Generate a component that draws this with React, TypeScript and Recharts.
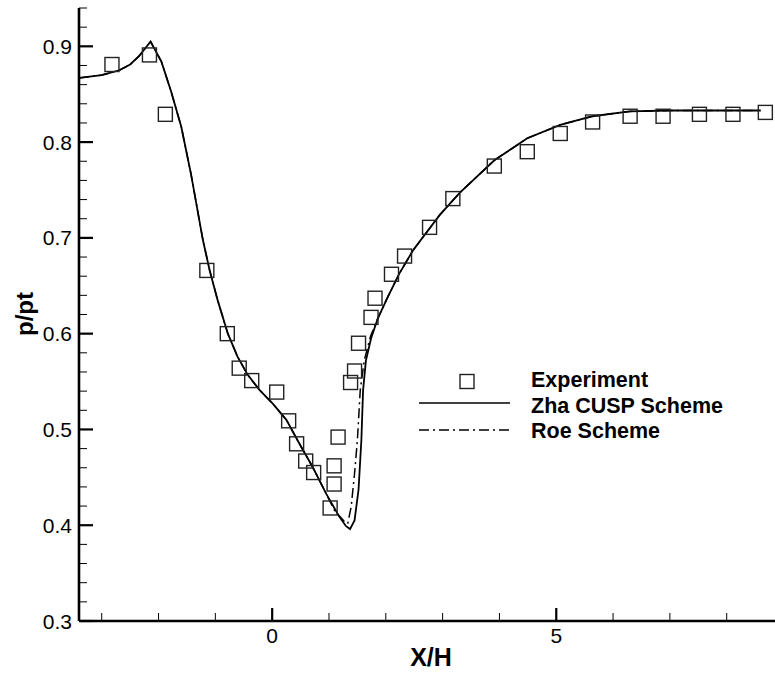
import {
  ComposedChart,
  Line,
  Scatter,
  XAxis,
  YAxis,
  Legend,
} from 'recharts'

const FONT = '"Liberation Sans", Arial, Helvetica, sans-serif'

// Zha CUSP scheme
const cuspX = [
  -3.4, -3.0, -2.69, -2.5, -2.34, -2.14, -1.95, -1.78, -1.6, -1.43, -1.22, -1.1,
  -0.96, -0.78, -0.61, -0.43, -0.22, 0.01, 0.25, 0.48, 0.71, 0.95, 1.18, 1.3,
  1.37, 1.45, 1.52, 1.57, 1.6, 1.65, 1.74, 1.86, 2.04, 2.24, 2.48, 2.95, 3.3,
  3.91, 4.49, 5.07, 5.64, 6.29, 7.0, 8.0, 8.6,
]
const cuspY = [
  0.867, 0.87, 0.875, 0.881, 0.89, 0.905, 0.884, 0.853, 0.816, 0.767, 0.698, 0.666,
  0.635, 0.6, 0.576, 0.557, 0.541, 0.527, 0.51, 0.485, 0.461, 0.433, 0.409, 0.399,
  0.396, 0.405, 0.437, 0.489, 0.541, 0.572, 0.595, 0.616, 0.639, 0.663, 0.687, 0.724, 0.747,
  0.781, 0.804, 0.818, 0.827, 0.832, 0.833, 0.833, 0.833,
]

// Roe scheme
const roeX = [
  -3.4, -3.0, -2.69, -2.5, -2.34, -2.14, -1.95, -1.78, -1.6, -1.43, -1.22, -1.1,
  -0.96, -0.78, -0.61, -0.43, -0.22, 0.01, 0.25, 0.48, 0.71, 0.95, 1.1, 1.24,
  1.3, 1.33, 1.39, 1.45, 1.5, 1.55, 1.62, 1.73, 1.86, 2.04, 2.24, 2.48, 2.95, 3.3,
  3.91, 4.49, 5.07, 5.64, 6.29, 7.0, 8.0, 8.6,
]
const roeY = [
  0.867, 0.87, 0.875, 0.881, 0.89, 0.905, 0.884, 0.853, 0.816, 0.767, 0.698, 0.666,
  0.635, 0.6, 0.576, 0.557, 0.541, 0.527, 0.51, 0.485, 0.461, 0.433, 0.415, 0.406,
  0.402, 0.402, 0.419, 0.454, 0.489, 0.541, 0.572, 0.597, 0.616, 0.639, 0.663, 0.687, 0.724, 0.747,
  0.781, 0.804, 0.818, 0.827, 0.832, 0.833, 0.833, 0.833,
]

// experiment
const expX = [
  -2.82, -2.16, -1.88, -1.15, -0.79, -0.58, -0.36, 0.08, 0.29, 0.43, 0.59, 0.73,
  1.02, 1.09, 1.09, 1.16, 1.38, 1.45, 1.52, 1.74, 1.81, 2.1, 2.33, 2.77, 3.18,
  3.91, 4.49, 5.07, 5.64, 6.3, 6.88, 7.52, 8.11, 8.68,
]
const expY = [
  0.881, 0.891, 0.829, 0.666, 0.6, 0.564, 0.551, 0.539, 0.509, 0.485, 0.467, 0.455,
  0.418, 0.443, 0.462, 0.492, 0.549, 0.561, 0.59, 0.617, 0.637, 0.662, 0.681, 0.711, 0.741,
  0.775, 0.79, 0.809, 0.821, 0.827, 0.827, 0.829, 0.829, 0.831,
]

const xTicks = [-3, -2, -1, 0, 1, 2, 3, 4, 5, 6, 7, 8]
const yTicks = [
  0.3, 0.32, 0.34, 0.36, 0.38, 0.4, 0.42, 0.44, 0.46, 0.48, 0.5, 0.52, 0.54, 0.56,
  0.58, 0.6, 0.62, 0.64, 0.66, 0.68, 0.7, 0.72, 0.74, 0.76, 0.78, 0.8, 0.82, 0.84,
  0.86, 0.88, 0.9, 0.92, 0.94,
]

const legendItems = ['Experiment', 'Zha CUSP Scheme', 'Roe Scheme']

const cuspData = cuspX.map((x, i) => ({ x, y: cuspY[i] }))
const roeData = roeX.map((x, i) => ({ x, y: roeY[i] }))
const expData = expX.map((x, i) => ({ x, y: expY[i] }))

const DASH_DOT = '10 4 2 4'

function YTick({ x, y, payload }: any) {
  const v = payload.value
  const major = Math.abs(v * 10 - Math.round(v * 10)) < 1e-6
  return (
    <g>
      <line x1={x} y1={y} x2={x + (major ? 14 : 8)} y2={y} stroke="#000" strokeWidth={major ? 2.2 : 1} />
      {major && (
        <text x={x - 7} y={y} dy="0.36em" textAnchor="end" fontSize={21} fontFamily={FONT} fill="#000">
          {v.toFixed(1)}
        </text>
      )}
    </g>
  )
}

function XTick({ x, y, payload }: any) {
  const v = payload.value
  const major = v % 5 === 0
  return (
    <g>
      <line x1={x} y1={y} x2={x} y2={y - (major ? 13 : 8)} stroke="#000" strokeWidth={major ? 2.2 : 1} />
      {major && (
        <text x={x} y={y + 22} textAnchor="middle" fontSize={21} fontFamily={FONT} fill="#000">
          {v}
        </text>
      )}
    </g>
  )
}

function Square({ cx, cy }: any) {
  return <rect x={cx - 7} y={cy - 7} width={14} height={14} fill="none" stroke="#222" strokeWidth={1.4} />
}

function LegendBox() {
  return (
    <svg width={360} height={80} style={{ display: 'block' }}>
      <rect x={45} y={9.5} width={14} height={14} fill="none" stroke="#222" strokeWidth={1.4} />
      <line x1={4} y1={38} x2={95} y2={38} stroke="#000" strokeWidth={1.5} />
      <line x1={4} y1={65} x2={95} y2={65} stroke="#000" strokeWidth={1.5} strokeDasharray={DASH_DOT} />
      {legendItems.map((t, i) => (
        <text
          key={t}
          x={116}
          y={22 + i * 25.5}
          fontSize={21.5}
          fontWeight="bold"
          fontFamily={FONT}
          fill="#000"
        >
          {t}
        </text>
      ))}
    </svg>
  )
}

export default function App() {
  return (
    <div style={{ position: 'absolute', left: 0, top: 0, background: '#fff' }}>
      <ComposedChart
        width={775}
        height={673}
        margin={{ top: 8, right: 0, bottom: 0, left: 0 }}
      >
        <XAxis
          type="number"
          dataKey="x"
          domain={[-3.4, 8.85]}
          ticks={xTicks}
          interval={0}
          allowDataOverflow
          height={52}
          tickSize={0}
          tickMargin={0}
          tick={<XTick />}
          axisLine={{ stroke: '#000', strokeWidth: 2.6 }}
          label={{
            content: () => (
              <text x={431} y={666} textAnchor="middle" fontSize={25} fontWeight="bold" fontFamily={FONT} fill="#000">
                X/H
              </text>
            ),
          }}
        />
        <YAxis
          type="number"
          dataKey="y"
          domain={[0.3, 0.94]}
          ticks={yTicks}
          interval={0}
          allowDataOverflow
          width={79}
          tickSize={0}
          tickMargin={0}
          tick={<YTick />}
          axisLine={{ stroke: '#000', strokeWidth: 2.6 }}
          label={{
            content: () => (
              <text
                x={33}
                y={314}
                transform="rotate(-90 33 314)"
                textAnchor="middle"
                fontSize={24}
                fontWeight="bold"
                fontFamily={FONT}
                fill="#000"
              >
                p/pt
              </text>
            ),
          }}
        />
        <Legend
          layout="horizontal"
          verticalAlign="middle"
          align="center"
          content={() => <LegendBox />}
          wrapperStyle={{ left: 415, top: 365, width: 360, height: 80 }}
        />
        <Line
          data={roeData}
          dataKey="y"
          name="Roe Scheme"
          type="linear"
          stroke="#000"
          strokeWidth={1.5}
          strokeDasharray={DASH_DOT}
          dot={false}
          activeDot={false}
          isAnimationActive={false}
        />
        <Line
          data={cuspData}
          dataKey="y"
          name="Zha CUSP Scheme"
          type="linear"
          stroke="#000"
          strokeWidth={1.8}
          dot={false}
          activeDot={false}
          isAnimationActive={false}
        />
        <Scatter
          data={expData}
          dataKey="y"
          name="Experiment"
          shape={<Square />}
          isAnimationActive={false}
        />
      </ComposedChart>
    </div>
  )
}
